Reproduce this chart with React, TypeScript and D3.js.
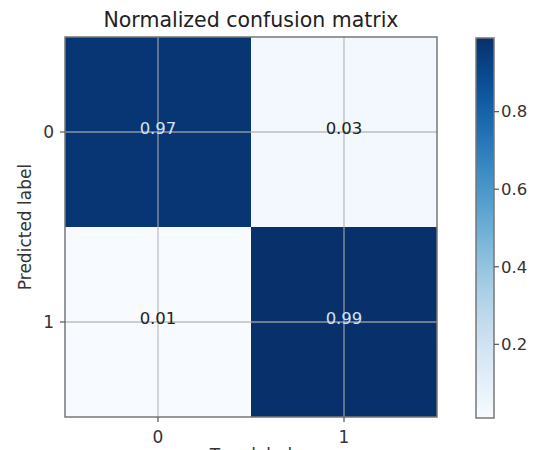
import React from "react";
import * as d3 from "d3";

const labels = ["0", "1"];
const matrix = [
  [0.97, 0.03],
  [0.01, 0.99],
];
const cbarTicks = [0.2, 0.4, 0.6, 0.8];
const title = "Normalized confusion matrix";
const yTitle = "Predicted label";
const xTitle = "True label";

const App = () => {
  const width = 534;
  const height = 450;
  const left = 65;
  const right = 437;
  const top = 37;
  const bottom = 417;
  const font = "DejaVu Sans, sans-serif";

  const x = d3.scaleBand().domain(labels).range([left, right]);
  const y = d3.scaleBand().domain(labels).range([top, bottom]);
  const flat = matrix.flat();
  const vmin = d3.min(flat);
  const vmax = d3.max(flat);
  const color = d3.scaleSequential(d3.interpolateBlues).domain([vmin, vmax]);

  const cbX = 476;
  const cbW = 18;
  const cb = d3.scaleLinear().domain([vmin, vmax]).range([bottom + 1, top + 1]);
  const stops = d3.range(0, 1.0001, 0.05);

  const cells = [];
  matrix.forEach((row, i) => {
    row.forEach((v, j) => {
      cells.push({ r: labels[i], c: labels[j], v });
    });
  });

  return (
    <svg width={width} height={height} style={{ position: "absolute", left: 0, top: 0 }}>
      <defs>
        <linearGradient id="cbgrad" x1="0" y1="1" x2="0" y2="0">
          {stops.map(t => (
            <stop key={t} offset={t} stopColor={d3.interpolateBlues(t)} />
          ))}
        </linearGradient>
      </defs>
      <rect width={width} height={height} fill="#fff" />
      <text x={(left + right) / 2} y={27} textAnchor="middle" fontFamily={font} fontSize={20.5} fill="#222">
        {title}
      </text>

      {cells.map(d => (
        <rect
          key={d.r + d.c}
          x={x(d.c)}
          y={y(d.r)}
          width={x.bandwidth()}
          height={y.bandwidth()}
          fill={color(d.v)}
        />
      ))}

      {/* grid at tick positions */}
      {labels.map(l => (
        <g key={"g" + l}>
          <line
            x1={x(l) + x.bandwidth() / 2}
            x2={x(l) + x.bandwidth() / 2}
            y1={top}
            y2={bottom}
            stroke="#b0b0b0"
            strokeOpacity={0.8}
            strokeWidth={1.3}
          />
          <line
            x1={left}
            x2={right}
            y1={y(l) + y.bandwidth() / 2}
            y2={y(l) + y.bandwidth() / 2}
            stroke="#b0b0b0"
            strokeOpacity={0.8}
            strokeWidth={1.3}
          />
        </g>
      ))}

      {cells.map(d => (
        <text
          key={"t" + d.r + d.c}
          x={x(d.c) + x.bandwidth() / 2}
          y={y(d.r) + y.bandwidth() / 2}
          dy="0.1em"
          textAnchor="middle"
          fontFamily={font}
          fontSize={16.5}
          fill={d.v > (vmin + vmax) / 2 ? "#d6e0ee" : "#222"}
        >
          {d.v.toFixed(2)}
        </text>
      ))}

      <rect x={left} y={top} width={right - left} height={bottom - top} fill="none" stroke="#777" strokeWidth={1.5} />

      {/* y ticks */}
      {labels.map(l => (
        <g key={"yt" + l}>
          <line x1={left - 5} x2={left} y1={y(l) + y.bandwidth() / 2} y2={y(l) + y.bandwidth() / 2} stroke="#555" strokeWidth={1.2} />
          <text
            x={left - 11}
            y={y(l) + y.bandwidth() / 2}
            dy="0.35em"
            textAnchor="end"
            fontFamily={font}
            fontSize={17}
            fill="#333"
          >
            {l}
          </text>
        </g>
      ))}
      {/* x ticks */}
      {labels.map(l => (
        <g key={"xt" + l}>
          <line x1={x(l) + x.bandwidth() / 2} x2={x(l) + x.bandwidth() / 2} y1={bottom} y2={bottom + 5} stroke="#555" strokeWidth={1.2} />
          <text
            x={x(l) + x.bandwidth() / 2}
            y={443}
            textAnchor="middle"
            fontFamily={font}
            fontSize={17}
            fill="#333"
          >
            {l}
          </text>
        </g>
      ))}

      <text
        transform={`translate(31,${(top + bottom) / 2}) rotate(-90)`}
        textAnchor="middle"
        fontFamily={font}
        fontSize={17}
        fill="#333"
      >
        {yTitle}
      </text>
      <text x={(left + right) / 2} y={461} textAnchor="middle" fontFamily={font} fontSize={17} fill="#333">
        {xTitle}
      </text>

      {/* colorbar */}
      <rect x={cbX} y={cb(vmax)} width={cbW} height={cb(vmin) - cb(vmax)} fill="url(#cbgrad)" stroke="#777" strokeWidth={1.5} />
      {cbarTicks.map(t => (
        <g key={"cb" + t}>
          <line x1={cbX + cbW} x2={cbX + cbW + 5} y1={cb(t)} y2={cb(t)} stroke="#555" strokeWidth={1.2} />
          <text x={cbX + cbW + 7} y={cb(t)} dy="0.35em" fontFamily={font} fontSize={16.5} fill="#333">
            {t.toFixed(1)}
          </text>
        </g>
      ))}
    </svg>
  );
};

export default App;
